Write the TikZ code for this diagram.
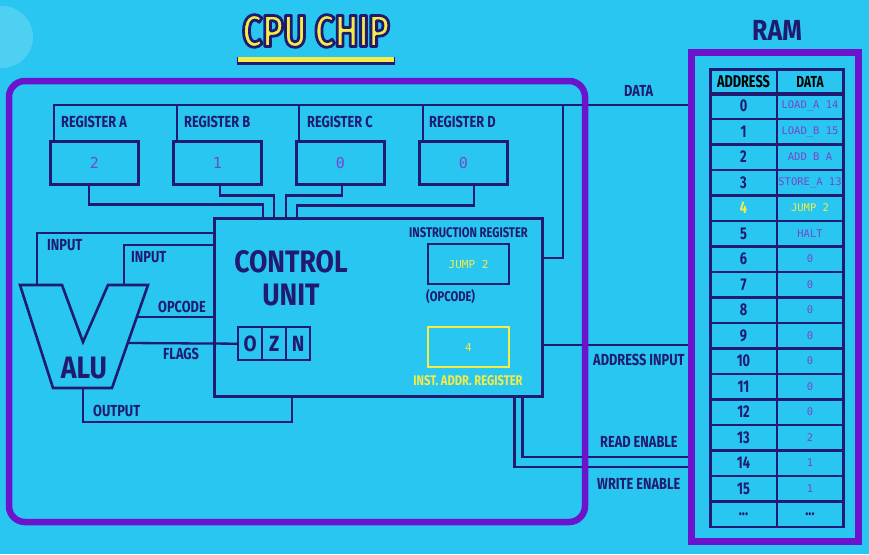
\documentclass[tikz,border=0pt]{standalone}
\usepackage{fontspec}
\setmainfont{Fira Sans}
\newfontfamily\labfont[FakeStretch=0.75]{Fira Sans}
\newfontfamily\wirefont[FakeStretch=0.8]{Fira Sans}
\newfontfamily\bigfont[FakeStretch=0.86]{Fira Sans}
\newfontfamily\titlefont[FakeStretch=0.78]{Fira Sans}
\newfontfamily\monofont{DejaVu Sans Mono}
\definecolor{bg}{RGB}{40,198,240}
\definecolor{navy}{RGB}{32,26,112}
\definecolor{chip}{RGB}{108,20,205}
\definecolor{ylw}{RGB}{246,236,72}
\definecolor{lav}{RGB}{120,70,205}
\newcommand\outlinedtext[1]{\special{pdf:literal direct 0.125 0.102 0.439 RG 2.8 w 1 j 2 Tr}#1\special{pdf:literal direct 0 Tr}}
\begin{document}
\begin{tikzpicture}[x=1pt,y=-1pt,
  wire/.style={draw=navy,line width=2.3pt},
  lbl/.style={font=\wirefont\bfseries\fontsize{16}{16}\selectfont,text=navy,inner sep=0pt,anchor=west},
  smlbl/.style={font=\wirefont\bfseries\fontsize{14}{14}\selectfont,text=navy,inner sep=0pt},
  regbox/.style={draw=navy,line width=2.6pt,minimum width=88pt,minimum height=43pt,anchor=north west,inner sep=0pt,
    font=\monofont\fontsize{15}{15}\selectfont,text=lav},
  cell/.style={draw=navy,line width=2.5pt,minimum width=66.5pt,minimum height=25.5pt,anchor=north west,inner sep=0pt},
  addr/.style={cell,font=\labfont\bfseries\fontsize{17}{17}\selectfont},
  dat/.style={cell,font=\monofont\fontsize{10.5}{10.5}\selectfont},
  flag/.style={draw=navy,line width=2.4pt,minimum width=24pt,minimum height=33pt,anchor=north west,inner sep=0pt,
    font=\bigfont\bfseries\fontsize{22}{22}\selectfont,text=navy}]
\useasboundingbox (0,0) rectangle (869,554);
\fill[bg] (0,0) rectangle (869,554);
% logo
\fill[white,opacity=0.18] (2,37) circle (31pt);
% title
\fill[navy] (237,57) rectangle (395,65);
\fill[ylw] (238,57) rectangle (394,61.5);
\node[font=\titlefont\bfseries\fontsize{45}{45}\selectfont,text=ylw,inner sep=0pt] (title) at (316,31) {\outlinedtext{CPU CHIP}};
% RAM title
\node[font=\bigfont\bfseries\fontsize{29}{29}\selectfont,text=navy,inner sep=0pt] (ramt) at (777,30) {RAM};

% registers
\node[regbox] (ra) at (49,140) {2};
\node[regbox] (rb) at (172,140) {1};
\node[regbox] (rc) at (295,140) {0};
\node[regbox] (rd) at (418,140) {0};
\node[lbl] (la) at (61,122) {REGISTER A};
\node[lbl] (lb) at (184,122) {REGISTER B};
\node[lbl] (lc) at (307,122) {REGISTER C};
\node[lbl] (ld) at (429,122) {REGISTER D};

% control unit
\node[draw=navy,line width=2.5pt,minimum width=328pt,minimum height=178pt,anchor=north west,inner sep=0pt] (cu) at (213,217) {};
\node[font=\bigfont\bfseries\fontsize{31}{33}\selectfont,text=navy,align=center,inner sep=0pt] (cut) at (291,278) {CONTROL\\UNIT};
\node[flag] (fo) at (237,326) {O};
\node[flag] (fz) at (261,326) {Z};
\node[flag] (fn) at (285,326) {N};
\node[smlbl] (irl) at (468.5,233) {INSTRUCTION REGISTER};
\node[draw=navy,line width=2.4pt,minimum width=81pt,minimum height=40pt,inner sep=0pt,
  font=\monofont\fontsize{11}{11}\selectfont,text=ylw] (ir) at (468.5,264) {JUMP 2};
\node[smlbl,anchor=west] (opl) at (426,297) {(OPCODE)};
\node[draw=ylw,line width=2.4pt,minimum width=81pt,minimum height=40pt,inner sep=0pt,
  font=\monofont\fontsize{11}{11}\selectfont,text=ylw] (iar) at (468.5,347) {4};
\node[smlbl,text=ylw] (iarl) at (468,381) {INST. ADDR. REGISTER};

% RAM table
\node[addr] (ha) at (709,68) {ADDRESS};
\node[addr,font=\labfont\bfseries\fontsize{16}{16}\selectfont] (hd) at (775.5,68) {DATA};
\foreach \i/\ad/\dv/\ac/\dc in {0/0/LOAD\_A 14/navy/lav,1/1/LOAD\_B 15/navy/lav,2/2/ADD B A/navy/lav,
  3/3/STORE\_A 13/navy/lav,4/4/JUMP 2/ylw/ylw,5/5/HALT/navy/lav,6/6/0/navy/lav,7/7/0/navy/lav,
  8/8/0/navy/lav,9/9/0/navy/lav,10/10/0/navy/lav,11/11/0/navy/lav,12/12/0/navy/lav,
  13/13/2/navy/lav,14/14/1/navy/lav,15/15/1/navy/lav} {
  \node[addr,text=\ac] (a\i) at (709,{92+25.5*\i}) {\ad};
  \node[dat,text=\dc] (d\i) at (775.5,{92+25.5*\i}) {\dv};
}
\node[addr,text=navy] (a16) at (709,500) {...};
\node[addr,text=navy] (d16) at (775.5,500) {...};

% named connection points
\coordinate (dataR) at (691,105);
\coordinate (dj) at (563,105);
\coordinate (addrR) at (691,345);
\coordinate (readR) at (691,457);
\coordinate (writeR) at (691,467);
\coordinate (aluIn1) at (37,285);
\coordinate (aluIn2) at (124,285);
\coordinate (aluOp) at (137,317);
\coordinate (aluFl) at (128,343);
\coordinate (aluOut) at (83,388);

% register bus
\draw[wire] ([shift={(5,0)}]ra.north west) -- ++(0,-35) -- (dataR);
\draw[wire] ([shift={(5,0)}]rb.north west) -- ++(0,-35);
\draw[wire] ([shift={(4,0)}]rc.north west) -- ++(0,-35);
\draw[wire] ([shift={(5,0)}]rd.north west) -- ++(0,-35);
\draw[wire] ([shift={(-5,0)}]ra.south) -- ++(0,19) -| ([shift={(50,0)}]cu.north west);
\draw[wire] ([shift={(3,0)}]rb.south) -- ++(0,10) -| ([shift={(61,0)}]cu.north west);
\draw[wire] ([shift={(2,0)}]rc.south) -- ++(0,10) -| ([shift={(73,0)}]cu.north west);
\draw[wire] ([shift={(11,0)}]rd.south) -- ++(0,20) -| ([shift={(84,0)}]cu.north west);
% data to CU
\draw[wire] (dj) |- ([shift={(0,41)}]cu.north east);
% RAM connections
\draw[wire] ([shift={(0,128)}]cu.north east) -- (addrR);
\draw[wire] ([shift={(-21,0)}]cu.south east) |- (readR);
\draw[wire] ([shift={(-29,0)}]cu.south east) |- (writeR);
% ALU connections
\draw[wire] (aluIn1) |- ([shift={(0,16)}]cu.north west);
\draw[wire] (aluIn2) |- ([shift={(0,28)}]cu.north west);
\draw[wire] (aluOp) -- ([shift={(0,100)}]cu.north west);
\draw[wire] (aluFl) -- (fo.west);
\draw[wire] (aluOut) -- ++(0,34) -| ([shift={(79,0)}]cu.south west);
% ALU shape
\draw[navy,line width=2.6pt,line join=miter] (20,285) -- (62,285) -- (83,342) -- (108,285) -- (148,285) -- (112,388) -- (53,388) -- cycle;
\node[font=\bigfont\bfseries\fontsize{31}{31}\selectfont,text=navy,inner sep=0pt] (alut) at (84,368) {ALU};

% wire labels
\node[lbl] (lin1) at (47,245) {INPUT};
\node[lbl] (lin2) at (131,257) {INPUT};
\node[lbl] (lop) at (158,307) {OPCODE};
\node[lbl] (lfl) at (163,354) {FLAGS};
\node[lbl] (lout) at (93,411) {OUTPUT};
\node[lbl] (ldata) at (624,91) {DATA};
\node[lbl] (laddr) at (593,360) {ADDRESS INPUT};
\node[lbl] (lread) at (600,442) {READ ENABLE};
\node[lbl] (lwrite) at (597,484) {WRITE ENABLE};

% chip and RAM borders
\draw[chip,line width=6.5pt,rounded corners=16pt] (9,81) rectangle (585,522);
\node[draw=chip,line width=7pt,minimum width=167pt,minimum height=489pt,inner sep=0pt] (ram) at (774.5,296.5) {};
\end{tikzpicture}
\end{document}
